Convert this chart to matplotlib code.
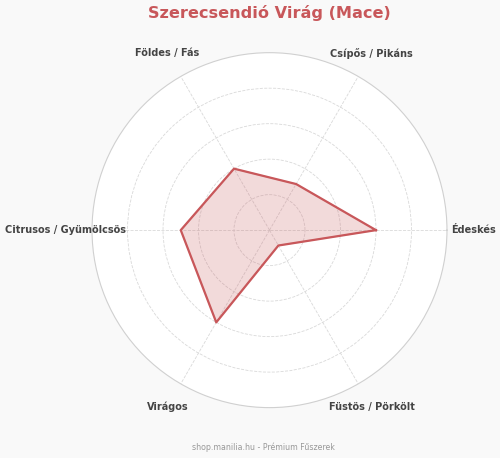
import numpy as np
import matplotlib
matplotlib.use('Agg')
import matplotlib.pyplot as plt

# ízprofil adatok
categories = ['Édeskés', 'Csípős / Pikáns', 'Földes / Fás',
              'Citrusos / Gyümölcsös', 'Virágos', 'Füstös / Pörkölt']
values = [6, 3, 4, 5, 6, 1]
title = 'Szerecsendió Virág (Mace)'
footer = 'shop.manilia.hu - Prémium Fűszerek'

plt.rcParams['font.family'] = ['DejaVu Sans']

red = '#c8575a'
n = len(categories)
angles = np.arange(n) * 2 * np.pi / n
closed_a = np.append(angles, angles[0])
closed_v = np.append(values, values[0])

fig = plt.figure(figsize=(5, 4.58), dpi=100, facecolor='#f9f9f9')
ax = fig.add_axes([0.184, 0.110, 0.71, 0.775], polar=True)
ax.set_facecolor('white')

ax.plot(closed_a, closed_v, color=red, linewidth=1.6, zorder=3)
ax.fill(closed_a, closed_v, color=red, alpha=0.22, zorder=2)

ax.set_ylim(0, 10)
ax.set_yticks([2, 4, 6, 8])
ax.set_yticklabels([])
ax.set_xticks(angles)
ax.set_xticklabels([])
ax.grid(True, color='#d9d9d9', linestyle='--', linewidth=0.6)
ax.spines['polar'].set_color('#d0d0d0')
ax.spines['polar'].set_linewidth(0.8)
ax.tick_params(length=0)

for a, lab in zip(angles, categories):
    ax.text(a, 11.5, lab, ha='center', va='center', fontsize=7,
            fontweight='bold', color='#444444')

fig.text(0.538, 0.971, title, ha='center', va='center', fontsize=11.6,
         fontweight='bold', color=red)
fig.text(0.526, 0.023, footer, ha='center', va='center', fontsize=5.7,
         color='#999999')

fig.savefig('out.png', dpi=100, facecolor=fig.get_facecolor())
